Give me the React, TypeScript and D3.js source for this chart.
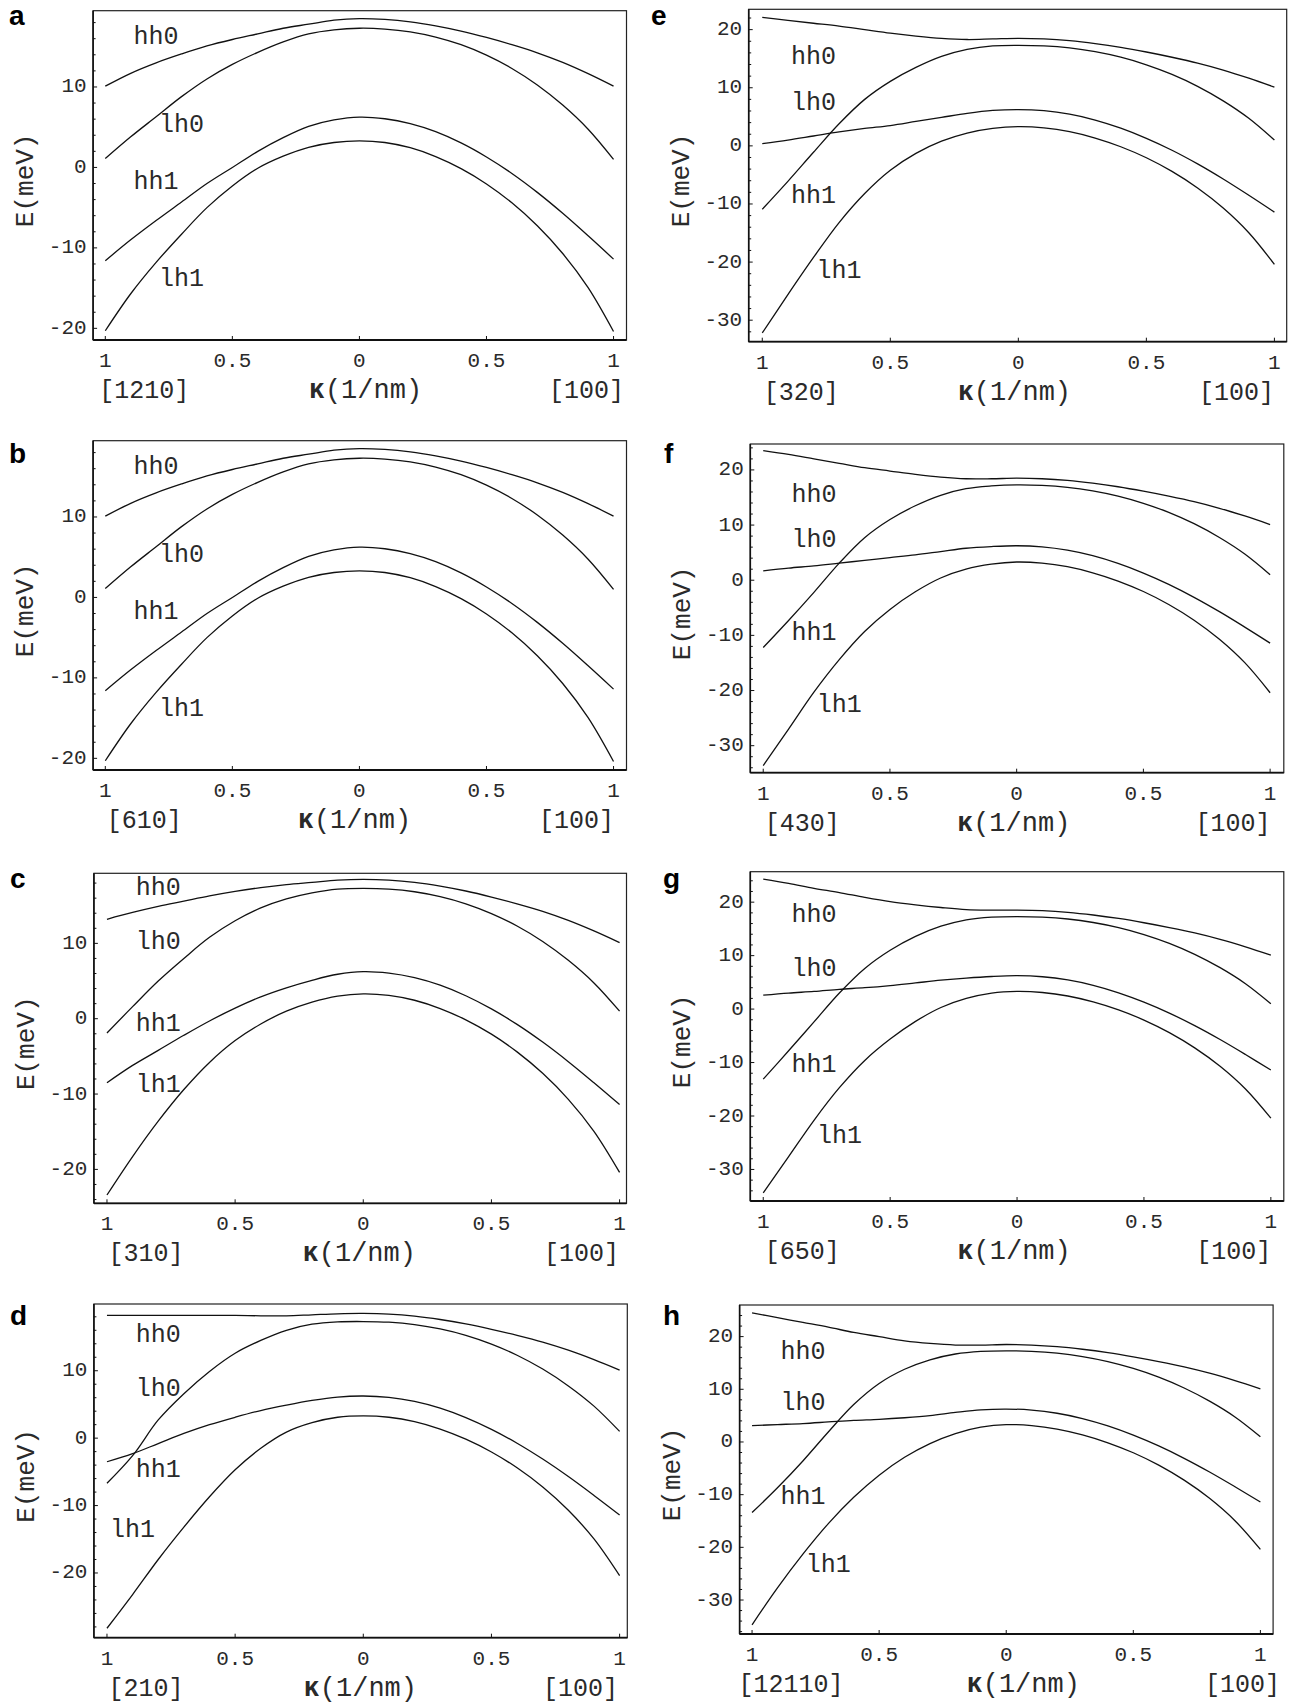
import React from "react";
import * as d3 from "d3";

// κ sampling, left half goes along the panel's own direction, right half along [100]
const kappaLeft = [-1, -0.9, -0.8, -0.7, -0.6, -0.5, -0.4, -0.3, -0.2, -0.1];
const kappaRight = [0, 0.1, 0.2, 0.3, 0.4, 0.5, 0.6, 0.7, 0.8, 0.9, 1];

// [100] half, identical in every panel
const hh0Right = [18.5, 18.4, 18.1, 17.6, 16.95, 16.15, 15.25, 14.25, 13.05, 11.65, 10.1];
const lh0Right = [17.3, 17.2, 16.85, 16.2, 15.25, 13.95, 12.3, 10.25, 7.75, 4.75, 1.0];
const hh1Right = [6.25, 6.05, 5.45, 4.45, 3.05, 1.3, -0.75, -3.1, -5.7, -8.5, -11.4];
const lh1Right = [3.3, 3.1, 2.45, 1.35, -0.15, -2.05, -4.4, -7.25, -10.7, -14.95, -20.4];

// left halves, rows: hh0, lh0, hh1, lh1
const leftA = [
  [10.1, 11.7, 13.0, 14.1, 15.1, 15.9, 16.6, 17.3, 17.8, 18.3],
  [1.1, 3.8, 6.3, 8.8, 11.0, 12.8, 14.3, 15.6, 16.6, 17.1],
  [-11.6, -9.0, -6.6, -4.3, -2.0, 0.0, 2.0, 3.7, 5.1, 5.9],
  [-20.3, -15.7, -11.8, -8.3, -5.0, -2.3, -0.1, 1.4, 2.5, 3.1],
];
const leftB = leftA;
const leftC = [
  [13.2, 14.1, 14.9, 15.6, 16.3, 16.9, 17.4, 17.8, 18.1, 18.4],
  [-1.9, 1.6, 5.0, 8.0, 10.8, 13.0, 14.7, 15.9, 16.7, 17.2],
  [-8.5, -6.2, -4.2, -2.2, -0.3, 1.4, 2.9, 4.1, 5.1, 5.9],
  [-23.4, -18.3, -13.6, -9.4, -5.8, -2.9, -0.7, 1.0, 2.2, 3.0],
];
const leftD = [
  [18.2, 18.2, 18.2, 18.2, 18.2, 18.2, 18.15, 18.15, 18.3, 18.45],
  [-6.7, -2.6, 2.7, 6.6, 9.9, 12.6, 14.5, 16.0, 16.9, 17.25],
  [-3.5, -2.3, -0.8, 0.7, 2.0, 3.1, 4.1, 4.9, 5.6, 6.1],
  [-28.2, -23.2, -18.0, -13.2, -8.7, -4.7, -1.5, 0.9, 2.3, 3.1],
];
const leftE = [
  [22.1, 21.6, 21.1, 20.6, 20.0, 19.4, 18.9, 18.5, 18.3, 18.4],
  [-10.9, -6.1, -1.1, 3.8, 8.0, 11.1, 13.5, 15.4, 16.6, 17.2],
  [0.4, 1.0, 1.7, 2.4, 3.0, 3.5, 4.2, 4.9, 5.6, 6.1],
  [-32.2, -25.6, -19.2, -13.2, -8.2, -4.2, -1.3, 0.8, 2.2, 3.0],
];
const leftF = [
  [23.5, 22.8, 22.0, 21.2, 20.4, 19.8, 19.2, 18.7, 18.4, 18.4],
  [-12.2, -7.3, -2.2, 3.1, 7.7, 11.0, 13.5, 15.4, 16.6, 17.1],
  [1.7, 2.2, 2.6, 3.1, 3.6, 4.1, 4.6, 5.2, 5.8, 6.1],
  [-33.6, -27.0, -20.3, -14.4, -9.3, -5.3, -2.1, 0.4, 2.0, 2.9],
];
const leftG = [
  [24.3, 23.5, 22.6, 21.8, 20.9, 20.1, 19.5, 19.0, 18.6, 18.5],
  [-13.1, -7.8, -2.4, 3.0, 7.6, 11.0, 13.6, 15.5, 16.7, 17.2],
  [2.6, 3.0, 3.3, 3.7, 4.0, 4.4, 4.9, 5.4, 5.8, 6.1],
  [-34.4, -27.6, -20.8, -14.7, -9.6, -5.6, -2.3, 0.3, 2.0, 3.0],
];
const leftH = [
  [24.5, 23.6, 22.7, 21.8, 20.8, 20.0, 19.2, 18.7, 18.4, 18.4],
  [-13.4, -8.7, -3.6, 1.9, 7.1, 11.1, 13.8, 15.6, 16.7, 17.2],
  [3.1, 3.3, 3.5, 3.8, 4.1, 4.3, 4.6, 5.0, 5.6, 6.1],
  [-34.7, -27.7, -21.3, -15.5, -10.5, -6.3, -2.9, -0.3, 1.6, 2.8],
];

const bandNames = ["hh0", "lh0", "hh1", "lh1"];
const panelLetters = ["a", "b", "c", "d", "e", "f", "g", "h"];
const directions = ["[1210]", "[610]", "[310]", "[210]", "[320]", "[430]", "[650]", "[12110]"];
const xTickValues = [-1, -0.5, 0, 0.5, 1];

// where each band label sits, [κ, E]
const labelsAB = [[-0.8, 15.4], [-0.7, 4.4], [-0.8, -2.7], [-0.7, -14.7]];
const labelsC = [[-0.8, 16.4], [-0.8, 9.3], [-0.8, -1.6], [-0.8, -9.7]];
const labelsD = [[-0.8, 14.3], [-0.8, 6.3], [-0.8, -5.7], [-0.9, -14.6]];
const labelsE = [[-0.8, 14.1], [-0.8, 6.1], [-0.8, -9.9], [-0.7, -22.7]];
const labelsF = [[-0.8, 14.1], [-0.8, 6.1], [-0.8, -10.9], [-0.7, -23.9]];
const labelsG = [[-0.8, 16.2], [-0.8, 6.1], [-0.8, -11.8], [-0.7, -25.1]];
const labelsH = [[-0.8, 15.8], [-0.8, 6.0], [-0.8, -11.8], [-0.7, -24.7]];

const lefts = [leftA, leftB, leftC, leftD, leftE, leftF, leftG, leftH];
const labelSets = [labelsAB, labelsAB, labelsC, labelsD, labelsE, labelsF, labelsG, labelsH];
const rights = [hh0Right, lh0Right, hh1Right, lh1Right];

// panel frames in page pixels plus axis ranges
const layout = [
  { left: 93.1, top: 10.7, right: 626.5, bottom: 340, xDom: [-1.048, 1.051], yDom: [-21.45, 19.48], lx: 9, ly: 25, rdx: -27, kdx: 6 },
  { left: 93.1, top: 440.7, right: 626.5, bottom: 770, xDom: [-1.048, 1.051], yDom: [-21.45, 19.48], lx: 9, ly: 463, rdx: -37, kdx: -5 },
  { left: 93.9, top: 873.3, right: 626.5, bottom: 1203.3, xDom: [-1.051, 1.027], yDom: [-24.5, 19.3], lx: 10, ly: 888, rdx: -38, kdx: -4 },
  { left: 93.9, top: 1304, right: 627.3, bottom: 1637.7, xDom: [-1.051, 1.03], yDom: [-29.6, 19.9], lx: 10, ly: 1325, rdx: -39, kdx: -3 },
  { left: 748.7, top: 9.3, right: 1286.7, bottom: 341.7, xDom: [-1.053, 1.048], yDom: [-33.7, 23.5], lx: 651, ly: 25, rdx: -38, kdx: -4 },
  { left: 750.3, top: 444, right: 1283.8, bottom: 772.7, xDom: [-1.051, 1.054], yDom: [-34.9, 24.7], lx: 664, ly: 463, rdx: -37, kdx: -3 },
  { left: 750.3, top: 871.7, right: 1283.8, bottom: 1201, xDom: [-1.051, 1.051], yDom: [-35.9, 25.7], lx: 663, ly: 888, rdx: -37, kdx: -3 },
  { left: 739.6, top: 1305, right: 1273.1, bottom: 1634, xDom: [-1.049, 1.05], yDom: [-36.45, 26.0], lx: 663, ly: 1325, rdx: -18, kdx: 17 },
];

const MONO = "'Liberation Mono', 'DejaVu Sans Mono', monospace";
const SANS = "'Liberation Sans', Arial, sans-serif";
const INK = "#2a2a2a";

const Panel = ({ i }: { i: number }) => {
  const L = layout[i];
  const x = d3.scaleLinear().domain(L.xDom).range([L.left, L.right]);
  const y = d3.scaleLinear().domain(L.yDom).range([L.bottom, L.top]);

  const kappa = [...kappaLeft, ...kappaRight];
  const line = d3
    .line<[number, number]>()
    .x((d) => x(d[0]))
    .y((d) => y(d[1]))
    .curve(d3.curveCatmullRom.alpha(0.5));

  const curves = lefts[i].map((row, b) => {
    const E = [...row, ...rights[b]];
    return kappa.map((k, j) => [k, E[j]] as [number, number]);
  });

  // major every 10 meV, minor every 2
  const yTicks = d3
    .range(Math.ceil(L.yDom[0] / 2) * 2, L.yDom[1], 2)
    .map((v) => Math.round(v));

  const midY = (L.top + L.bottom) / 2;

  return (
    <g>
      <text x={L.lx} y={L.ly} fontFamily={SANS} fontWeight="bold" fontSize={28}>
        {panelLetters[i]}
      </text>

      <rect
        x={L.left}
        y={L.top}
        width={L.right - L.left}
        height={L.bottom - L.top}
        fill="none"
        stroke="#222"
        strokeWidth={1.2}
      />
      <line x1={L.left} x2={L.right} y1={L.bottom} y2={L.bottom} stroke="#111" strokeWidth={1.8} />
      <line x1={L.left} x2={L.left} y1={L.top} y2={L.bottom} stroke="#111" strokeWidth={1.6} />

      {yTicks.map((v) => {
        const major = v % 10 === 0;
        return (
          <g key={"y" + v}>
            <line
              x1={L.left}
              x2={L.left + (major ? 4 : 2.5)}
              y1={y(v)}
              y2={y(v)}
              stroke="#111"
              strokeWidth={1}
            />
            {major && (
              <text
                x={L.left - 6.5}
                y={y(v)}
                textAnchor="end"
                dominantBaseline="central"
                fontFamily={MONO}
                fontSize={21}
                fill={INK}
              >
                {v < 0 ? "-" + Math.abs(v) : v}
              </text>
            )}
          </g>
        );
      })}

      {xTickValues.map((v) => (
        <g key={"x" + v}>
          <line x1={x(v)} x2={x(v)} y1={L.bottom} y2={L.bottom - 4} stroke="#111" strokeWidth={1} />
          <text
            x={x(v)}
            y={L.bottom + 27}
            textAnchor="middle"
            fontFamily={MONO}
            fontSize={21}
            fill={INK}
          >
            {Math.abs(v)}
          </text>
        </g>
      ))}

      {curves.map((pts, b) => (
        <path key={b} d={line(pts) || ""} fill="none" stroke="#111" strokeWidth={1.3} />
      ))}

      {labelSets[i].map((p, b) => (
        <text
          key={"l" + b}
          x={x(p[0])}
          y={y(p[1])}
          textAnchor="middle"
          fontFamily={MONO}
          fontSize={25}
          fill={INK}
        >
          {bandNames[b]}
        </text>
      ))}

      <text x={x(-1) + 39} y={L.bottom + 58} textAnchor="middle" fontFamily={MONO} fontSize={25} fill={INK}>
        {directions[i]}
      </text>
      <text x={x(1) + L.rdx} y={L.bottom + 58} textAnchor="middle" fontFamily={MONO} fontSize={25} fill={INK}>
        [100]
      </text>
      <text x={x(0) + L.kdx} y={L.bottom + 58} textAnchor="middle" fontFamily={MONO} fontSize={27} fill={INK}>
        <tspan fontWeight="bold">κ</tspan>(1/nm)
      </text>

      <text
        transform={`translate(${L.left - 67},${midY + 5}) rotate(-90)`}
        textAnchor="middle"
        dominantBaseline="central"
        fontFamily={MONO}
        fontSize={26}
        fill={INK}
      >
        E(meV)
      </text>
    </g>
  );
};

export default function App() {
  return (
    <svg
      width={1290}
      height={1705}
      style={{ position: "absolute", left: 0, top: 0, background: "#fff" }}
    >
      <rect width={1290} height={1705} fill="#fff" />
      {layout.map((_, i) => (
        <Panel key={i} i={i} />
      ))}
    </svg>
  );
}
